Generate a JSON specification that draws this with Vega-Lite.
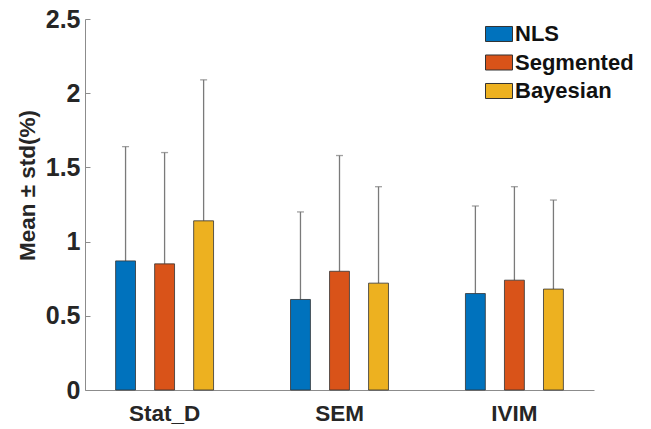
{
  "$schema": "https://vega.github.io/schema/vega-lite/v6.json",
  "autosize": {"type": "none"},
  "width": 509,
  "height": 371,
  "padding": {"left": 85, "top": 19, "right": 57, "bottom": 39},
  "background": "white",
  "config": {
    "view": {"stroke": null},
    "font": "Liberation Sans",
    "axis": {"grid": false}
  },
  "data": {
    "values": [
      {"group": "Stat_D", "method": "NLS", "mean": 0.87, "upper": 1.64},
      {"group": "Stat_D", "method": "Segmented", "mean": 0.85, "upper": 1.60},
      {"group": "Stat_D", "method": "Bayesian", "mean": 1.14, "upper": 2.09},
      {"group": "SEM", "method": "NLS", "mean": 0.61, "upper": 1.20},
      {"group": "SEM", "method": "Segmented", "mean": 0.80, "upper": 1.58},
      {"group": "SEM", "method": "Bayesian", "mean": 0.72, "upper": 1.37},
      {"group": "IVIM", "method": "NLS", "mean": 0.65, "upper": 1.24},
      {"group": "IVIM", "method": "Segmented", "mean": 0.74, "upper": 1.37},
      {"group": "IVIM", "method": "Bayesian", "mean": 0.68, "upper": 1.28}
    ]
  },
  "encoding": {
    "x": {
      "field": "group",
      "type": "nominal",
      "sort": ["Stat_D", "SEM", "IVIM"],
      "scale": {"paddingInner": 0.44, "paddingOuter": 0.175},
      "axis": {
        "title": null,
        "labelAngle": 0,
        "labelFont": "Liberation Sans",
        "labelFontWeight": "bold",
        "labelFontSize": 22.5,
        "labelColor": "#262626",
        "labelPadding": 17,
        "domainColor": "#8c8c8c",
        "domainWidth": 1,
        "tickColor": "#8c8c8c",
        "tickSize": -5,
        "tickWidth": 1
      }
    },
    "xOffset": {
      "field": "method",
      "type": "nominal",
      "sort": ["NLS", "Segmented", "Bayesian"],
      "scale": {"paddingInner": 0.49, "paddingOuter": 0}
    }
  },
  "layer": [
    {
      "mark": {"type": "rule", "color": "#7a7a7a", "strokeWidth": 1.3},
      "encoding": {
        "y": {"field": "mean", "type": "quantitative"},
        "y2": {"field": "upper"}
      }
    },
    {
      "mark": {"type": "tick", "color": "#7a7a7a", "size": 7, "thickness": 1.3},
      "encoding": {
        "y": {"field": "upper", "type": "quantitative"}
      }
    },
    {
      "mark": {"type": "bar", "stroke": "#333333", "strokeWidth": 1, "strokeOpacity": 0.8},
      "encoding": {
        "y": {
          "field": "mean",
          "type": "quantitative",
          "scale": {"domain": [0, 2.5], "nice": false},
          "axis": {
            "values": [0, 0.5, 1, 1.5, 2, 2.5],
            "format": "~g",
            "title": "Mean ± std(%)",
            "titleFont": "Liberation Sans",
            "titleFontWeight": "bold",
            "titleFontSize": 22.5,
            "titleColor": "#262626",
            "titleAngle": -90,
            "titleX": -58,
            "titleY": 166,
            "titleAlign": "center",
            "titleBaseline": "middle",
            "labelFont": "Liberation Sans",
            "labelFontWeight": "bold",
            "labelFontSize": 25,
            "labelColor": "#262626",
            "labelPadding": 10,
            "domainColor": "#8c8c8c",
            "domainWidth": 1,
            "tickColor": "#8c8c8c",
            "tickSize": -5,
            "tickWidth": 1
          }
        },
        "color": {
          "field": "method",
          "type": "nominal",
          "sort": ["NLS", "Segmented", "Bayesian"],
          "scale": {"domain": ["NLS", "Segmented", "Bayesian"], "range": ["#0072BD", "#D95319", "#EDB120"]},
          "legend": {
            "title": null,
            "orient": "none",
            "legendX": 400,
            "legendY": 1,
            "symbolType": "M-1,-0.556H1V0.556H-1Z",
            "symbolSize": 729,
            "symbolStrokeColor": "#333333",
            "symbolStrokeWidth": 1,
            "symbolOpacity": 1,
            "labelFont": "Liberation Sans",
            "labelFontWeight": "bold",
            "labelFontSize": 22,
            "labelColor": "#111111",
            "labelOffset": 2,
            "rowPadding": 3.5
          }
        }
      }
    }
  ]
}
